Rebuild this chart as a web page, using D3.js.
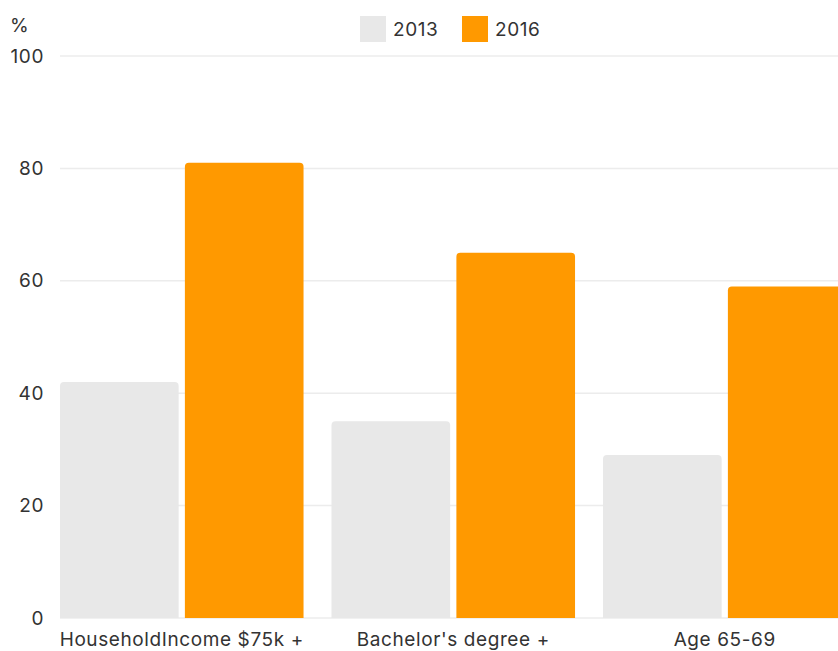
<!DOCTYPE html>
<html>
<head>
<meta charset="utf-8">
<script src="https://cdn.jsdelivr.net/npm/d3@7"></script>
<style>
  body { margin: 0; background: #fff; }
  text { font-family: Inter, "Open Sans", sans-serif; fill: #333; font-size: 19px; letter-spacing: 0.6px; }
</style>
</head>
<body>
<script>
const categories = ["HouseholdIncome $75k +", "Bachelor's degree +", "Age 65-69"];
const years = ["2013", "2016"];
const values2013 = [42, 35, 29];
const values2016 = [81, 65, 59];
const yTicks = [0, 20, 40, 60, 80, 100];
const colors = ["#e8e8e8", "#ff9900"];

const width = 838, height = 651;
const marginLeft = 60, plotTop = 56, plotBottom = 618;

const svg = d3.select("body").append("svg")
    .attr("width", width)
    .attr("height", height);

const y = d3.scaleLinear().domain([0, 100]).range([plotBottom, plotTop]);

const x0 = d3.scaleBand()
    .domain(categories)
    .range([marginLeft, marginLeft + 271.5 * (3 - 0.103)])
    .paddingInner(0.103)
    .paddingOuter(0);

const x1 = d3.scaleBand()
    .domain(years)
    .range([0, x0.bandwidth()])
    .paddingInner(0.05);

// gridlines
svg.append("g")
  .selectAll("line")
  .data(yTicks)
  .join("line")
    .attr("x1", marginLeft)
    .attr("x2", width)
    .attr("y1", d => y(d))
    .attr("y2", d => y(d))
    .attr("stroke", "#ececec")
    .attr("stroke-width", 1.5);

// y labels
svg.append("g")
  .selectAll("text")
  .data(yTicks)
  .join("text")
    .attr("x", 44)
    .attr("y", d => y(d))
    .attr("dy", "0.35em")
    .attr("text-anchor", "end")
    .text(d => d);

svg.append("text")
    .attr("x", 10)
    .attr("y", 25)
    .attr("dy", "0.35em")
    .text("%");

const rows = categories.map((c, i) => ({ cat: c, vals: [values2013[i], values2016[i]] }));

// top-rounded bar path
function bar(x, w, yTop, yBot, r) {
  return `M${x},${yBot}V${yTop + r}Q${x},${yTop} ${x + r},${yTop}H${x + w - r}Q${x + w},${yTop} ${x + w},${yTop + r}V${yBot}Z`;
}

const groups = svg.append("g")
  .selectAll("g")
  .data(rows)
  .join("g")
    .attr("transform", d => `translate(${x0(d.cat)},0)`);

groups.selectAll("path")
  .data(d => d.vals.map((v, i) => ({ year: years[i], v, i })))
  .join("path")
    .attr("d", d => bar(x1(d.year), x1.bandwidth(), y(d.v), y(0), 4))
    .attr("fill", d => colors[d.i]);

// x labels
svg.append("g")
  .selectAll("text")
  .data(categories)
  .join("text")
    .attr("x", d => x0(d) + x0.bandwidth() / 2)
    .attr("y", 639)
    .attr("dy", "0.35em")
    .attr("text-anchor", "middle")
    .text(d => d);

// legend
const legend = svg.append("g");
const legendX = [360, 462];
years.forEach((yr, i) => {
  legend.append("rect")
      .attr("x", legendX[i])
      .attr("y", 16)
      .attr("width", 26)
      .attr("height", 26)
      .attr("fill", colors[i]);
  legend.append("text")
      .attr("x", legendX[i] + 33)
      .attr("y", 29)
      .attr("dy", "0.35em")
      .text(yr);
});
</script>
</body>
</html>
